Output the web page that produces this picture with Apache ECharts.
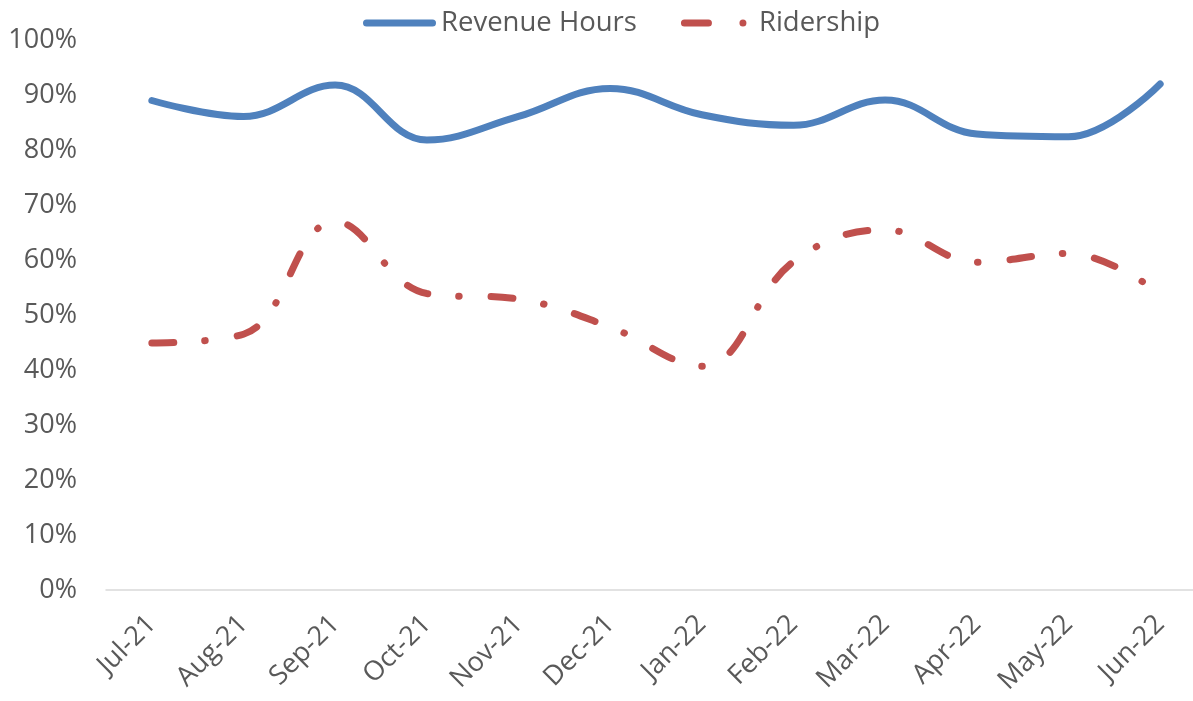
<!DOCTYPE html>
<html>
<head>
<meta charset="utf-8">
<script src="https://cdn.jsdelivr.net/npm/echarts@6/dist/echarts.min.js"></script>
<style>
  html, body { margin: 0; padding: 0; background: #fff; }
  #chart { width: 1193px; height: 701px; }
</style>
</head>
<body>
<div id="chart"></div>
<script>
const months = ['Jul-21', 'Aug-21', 'Sep-21', 'Oct-21', 'Nov-21', 'Dec-21', 'Jan-22', 'Feb-22', 'Mar-22', 'Apr-22', 'May-22', 'Jun-22'];
const revenueHours = [89.0, 86.1, 91.8, 81.8, 86.1, 91.2, 86.4, 84.5, 89.1, 82.9, 82.4, 92.0];
const ridership = [44.9, 46.5, 67.0, 53.9, 52.9, 47.8, 40.7, 59.7, 65.5, 59.6, 61.2, 53.9];
const yTicks = [0, 10, 20, 30, 40, 50, 60, 70, 80, 90, 100];

const fontFam = "'Open Sans', 'Noto Sans', sans-serif";
const textCol = '#595959';

// legend icons drawn like the excel ones: thick bar / dash + dot
const solidIcon = 'path://M3.5,0 L69.5,0 A3.5,3.5 0 0 1 69.5,7 L3.5,7 A3.5,3.5 0 0 1 3.5,0 Z';
const dashDotIcon = 'path://M3.5,0 L27.5,0 A3.5,3.5 0 0 1 27.5,7 L3.5,7 A3.5,3.5 0 0 1 3.5,0 Z M62,0 A3.5,3.5 0 1 1 62,7 A3.5,3.5 0 1 1 62,0 Z M72.9,3.5 L73,3.5 L73,3.51 Z';

const getOption = () => {
  return {
    animation: false,
    legend: {
      top: 4,
      left: 358,
      itemWidth: 73,
      itemHeight: 7,
      itemGap: 44,
      textStyle: { fontFamily: fontFam, fontSize: 27.5, color: textCol },
      data: [
        { name: 'Revenue Hours', icon: solidIcon },
        { name: 'Ridership', icon: dashDotIcon }
      ]
    },
    grid: { left: 106, right: -13, top: 40, bottom: 111, outerBoundsMode: 'none', containLabel: false },
    xAxis: {
      type: 'category',
      data: months,
      boundaryGap: true,
      axisLine: { lineStyle: { color: '#d9d9d9', width: 1.5 } },
      axisTick: { show: false },
      axisLabel: {
        rotate: 45,
        margin: 30,
        interval: 0,
        fontFamily: fontFam,
        fontSize: 27,
        color: textCol
      }
    },
    yAxis: {
      type: 'value',
      min: yTicks[0],
      max: yTicks[yTicks.length - 1],
      interval: 10,
      splitLine: { show: false },
      axisLine: { show: false },
      axisTick: { show: false },
      axisLabel: {
        margin: 29,
        formatter: '{value}%',
        fontFamily: fontFam,
        fontSize: 27,
        color: textCol
      }
    },
    series: [
      {
        name: 'Revenue Hours',
        type: 'line',
        data: revenueHours,
        smooth: 0.4,
        symbol: 'none',
        lineStyle: { color: '#4f81bd', width: 7, cap: 'round' },
        itemStyle: { color: '#4f81bd' }
      },
      {
        name: 'Ridership',
        type: 'line',
        data: ridership,
        smooth: 0.4,
        symbol: 'none',
        lineStyle: { color: '#c0504d', width: 7, cap: 'round', type: [22, 31, 0.5, 32] },
        itemStyle: { color: '#c0504d' }
      }
    ]
  };
};

const initChart = () => {
  const chart = echarts.init(document.getElementById('chart'));
  chart.setOption(getOption());
};

window.addEventListener('load', () => {
  initChart();
});
</script>
</body>
</html>
